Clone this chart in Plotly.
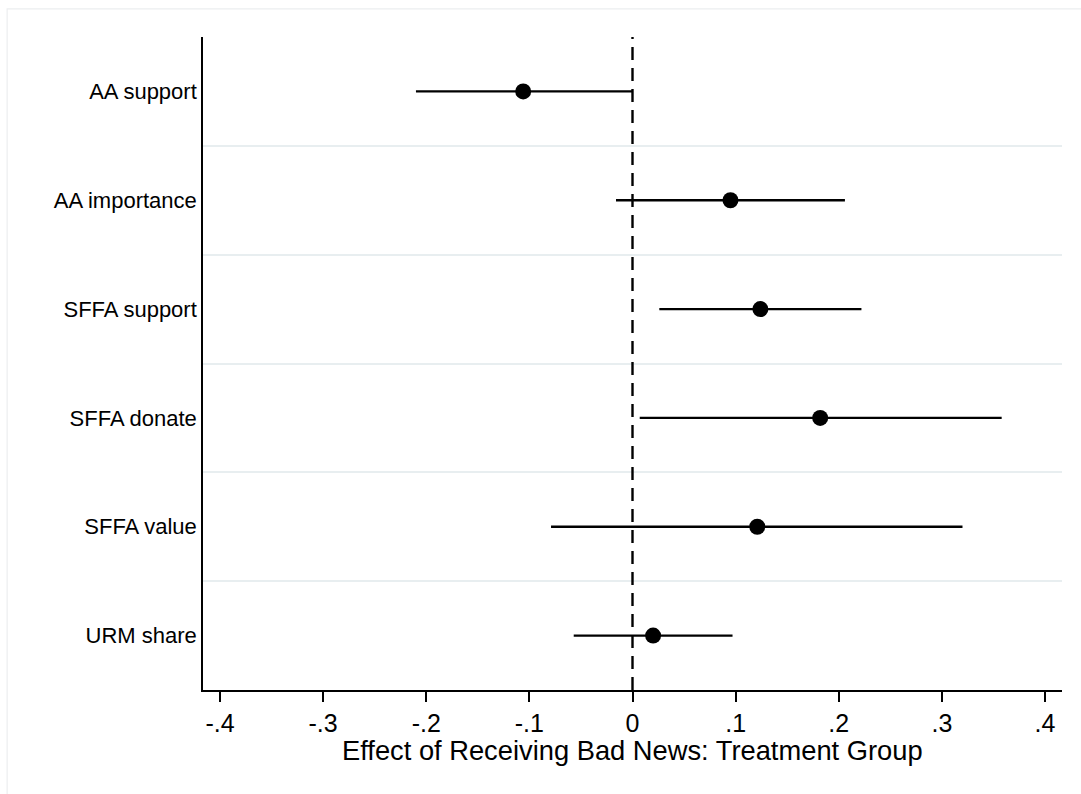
import plotly.graph_objects as go

# Outcomes, point estimates and 95% confidence bounds
outcomes = ["AA support", "AA importance", "SFFA support", "SFFA donate", "SFFA value", "URM share"]
estimates = [-0.106, 0.095, 0.124, 0.182, 0.121, 0.020]
ci_low = [-0.210, -0.016, 0.026, 0.007, -0.079, -0.057]
ci_high = [0.000, 0.206, 0.222, 0.358, 0.320, 0.097]

x_tickvals = [-0.4, -0.3, -0.2, -0.1, 0, 0.1, 0.2, 0.3, 0.4]
x_ticktext = ["-.4", "-.3", "-.2", "-.1", "0", ".1", ".2", ".3", ".4"]
x_title = "Effect of Receiving Bad News: Treatment Group"

positions = list(range(1, len(outcomes) + 1))
err_plus = [h - e for h, e in zip(ci_high, estimates)]
err_minus = [e - l for e, l in zip(estimates, ci_low)]
separators = [p + 0.5 for p in positions[:-1]]

FONT = "Liberation Sans, Helvetica, Arial, sans-serif"

fig = go.Figure()
fig.add_trace(go.Scatter(
    x=estimates,
    y=positions,
    mode="markers",
    marker=dict(size=16, color="black"),
    error_x=dict(
        type="data",
        symmetric=False,
        array=err_plus,
        arrayminus=err_minus,
        color="black",
        thickness=2.4,
        width=0,
    ),
    showlegend=False,
))

# Zero reference line
fig.add_shape(
    type="line", xref="x", yref="paper",
    x0=0, x1=0, y0=0, y1=1,
    line=dict(color="black", width=2.4, dash="13px,8px"),
    layer="above",
)

# Thin outer frame around the graph region
fig.add_shape(
    type="rect", xref="paper", yref="paper",
    x0=-0.228, x1=1.2, y0=-0.3, y1=1.043,
    line=dict(color="#eceeef", width=1.2),
    layer="below",
)

# Axis title placed just under the tick labels
fig.add_annotation(
    text=x_title,
    xref="paper", yref="paper",
    x=0.5, y=-0.0925,
    xanchor="center", yanchor="middle",
    showarrow=False,
    font=dict(size=27.3, family=FONT, color="black"),
)

fig.update_layout(
    width=1081,
    height=794,
    margin=dict(l=203, r=19, t=37, b=104),
    paper_bgcolor="white",
    plot_bgcolor="white",
    font=dict(family=FONT, color="black"),
    xaxis=dict(
        range=[-0.4165, 0.4165],
        tickvals=x_tickvals,
        ticktext=x_ticktext,
        showgrid=False,
        zeroline=False,
        showline=True,
        linecolor="black",
        linewidth=1.6,
        ticks="outside",
        ticklen=10,
        tickwidth=1.6,
        tickcolor="black",
        ticklabelstandoff=0,
        tickfont=dict(size=25, family=FONT, color="black"),
    ),
    yaxis=dict(
        range=[6.5, 0.5],
        tickvals=positions,
        ticktext=outcomes,
        showgrid=False,
        zeroline=False,
        showline=True,
        linecolor="black",
        linewidth=1.6,
        ticks="",
        ticklabelstandoff=0,
        tickfont=dict(size=22, family=FONT, color="black"),
        minor=dict(
            tickvals=separators,
            showgrid=True,
            gridcolor="#e8eef0",
            gridwidth=2,
            ticks="",
        ),
    ),
)

fig.write_html("out.html")
